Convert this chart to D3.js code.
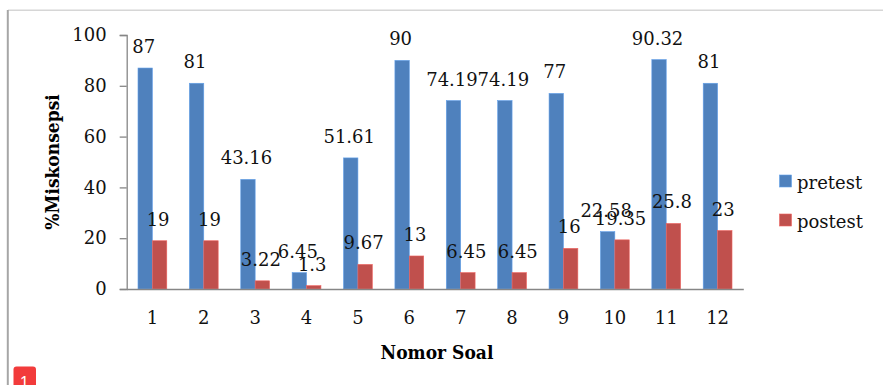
<!DOCTYPE html>
<html><head><meta charset="utf-8">
<script src="https://cdn.jsdelivr.net/npm/d3@7"></script>
<style>html,body{margin:0;padding:0;background:#fff;}svg{display:block;}</style>
</head><body>
<svg id="c" width="883" height="385"></svg>
<script>
const categories = ["1","2","3","4","5","6","7","8","9","10","11","12"];
const pretest = [87, 81, 43.16, 6.45, 51.61, 90, 74.19, 74.19, 77, 22.58, 90.32, 81];
const postest = [19, 19, 3.22, 1.3, 9.67, 13, 6.45, 6.45, 16, 19.35, 25.8, 23];
const seriesNames = ["pretest", "postest"];
const yTicks = [0, 20, 40, 60, 80, 100];

(function () {
const colors = ["#4F81BD", "#C0504D"];
const FONT = "'DejaVu Serif', serif";
const TFONT = "'DejaVu Serif Condensed', 'DejaVu Serif', serif";
const svg = d3.select("#c");

// frame
svg.append("line").attr("x1", 8).attr("x2", 883).attr("y1", 10.3).attr("y2", 10.3)
  .attr("stroke", "#d6d6d6").attr("stroke-width", 1.6);
svg.append("line").attr("x1", 7.8).attr("x2", 7.8).attr("y1", 10).attr("y2", 385)
  .attr("stroke", "#a6a6a6").attr("stroke-width", 2);

const pLeft = 126.7, pRight = 743.3, pTop = 35, pBottom = 289;
const x = d3.scaleBand().domain(categories).range([pLeft, pRight]).paddingInner(0).paddingOuter(0);
const y = d3.scaleLinear().domain([0, 100]).range([pBottom, pTop]);
const bw = 14.4;
const data = [pretest, postest];

// bars
data.forEach((vals, si) => {
  const g = svg.append("g");
  g.selectAll("rect").data(vals).enter().append("rect")
    .attr("x", (d, i) => x(categories[i]) + x.bandwidth() / 2 - bw + si * bw)
    .attr("y", d => y(d))
    .attr("width", bw)
    .attr("height", d => pBottom - y(d))
    .attr("fill", colors[si])
    .attr("stroke", d3.color(colors[si]).brighter(0.6))
    .attr("stroke-width", 0.6);
});

// y axis
const yAxis = d3.axisLeft(y).tickValues(yTicks).tickSize(7).tickPadding(13);
const ga = svg.append("g").attr("transform", `translate(${pLeft},0)`).call(yAxis);
ga.select(".domain").attr("stroke", "#868686").attr("stroke-width", 1.3);
ga.selectAll(".tick line").attr("stroke", "#868686").attr("stroke-width", 1.3);
ga.selectAll(".tick text").attr("font-family", FONT).attr("font-size", 18).attr("fill", "#111");

// x axis
const xAxis = d3.axisBottom(x).tickSize(0).tickPadding(22);
const gx = svg.append("g").attr("transform", `translate(0,${pBottom})`).call(xAxis);
gx.select(".domain").attr("stroke", "#868686").attr("stroke-width", 1.3);
gx.selectAll(".tick text").attr("font-family", FONT).attr("font-size", 18).attr("fill", "#111");

// data labels
data.forEach((vals, si) => {
  svg.append("g").selectAll("text").data(vals).enter().append("text")
    .attr("x", (d, i) => x(categories[i]) + x.bandwidth() / 2 - bw / 2 + si * bw - 1.5)
    .attr("y", d => y(d) - 15)
    .attr("text-anchor", "middle")
    .attr("font-family", FONT).attr("font-size", 18).attr("fill", "#111")
    .text(d => String(d));
});

// axis titles
svg.append("text").attr("x", (pLeft + pRight) / 2 + 2).attr("y", 359)
  .attr("text-anchor", "middle").attr("font-family", TFONT).attr("font-weight", "bold")
  .attr("font-size", 19).attr("fill", "#000").text("Nomor Soal");
svg.append("text").attr("transform", `translate(59,${(pTop + pBottom) / 2}) rotate(-90)`)
  .attr("text-anchor", "middle").attr("font-family", TFONT).attr("font-weight", "bold")
  .attr("font-size", 19).attr("fill", "#000").text("%Miskonsepsi");

// legend
const lg = svg.append("g");
seriesNames.forEach((name, i) => {
  const yy = 175 + i * 39;
  lg.append("rect").attr("x", 779.5).attr("y", yy).attr("width", 12).attr("height", 12)
    .attr("fill", colors[i]).attr("stroke", d3.color(colors[i]).brighter(0.6)).attr("stroke-width", 0.6);
  lg.append("text").attr("x", 797).attr("y", yy + 13.5)
    .attr("font-family", FONT).attr("font-size", 18).attr("fill", "#111").text(name);
});

// page marker badge
svg.append("rect").attr("x", 13.5).attr("y", 366.5).attr("width", 22.5).attr("height", 26).attr("rx", 3)
  .attr("fill", "#f23b3b");
svg.append("text").attr("x", 24.5).attr("y", 388).attr("text-anchor", "middle")
  .attr("font-family", "'Liberation Sans', sans-serif").attr("font-size", 16).attr("fill", "#fff").text("1");
})();
</script>
</body></html>
